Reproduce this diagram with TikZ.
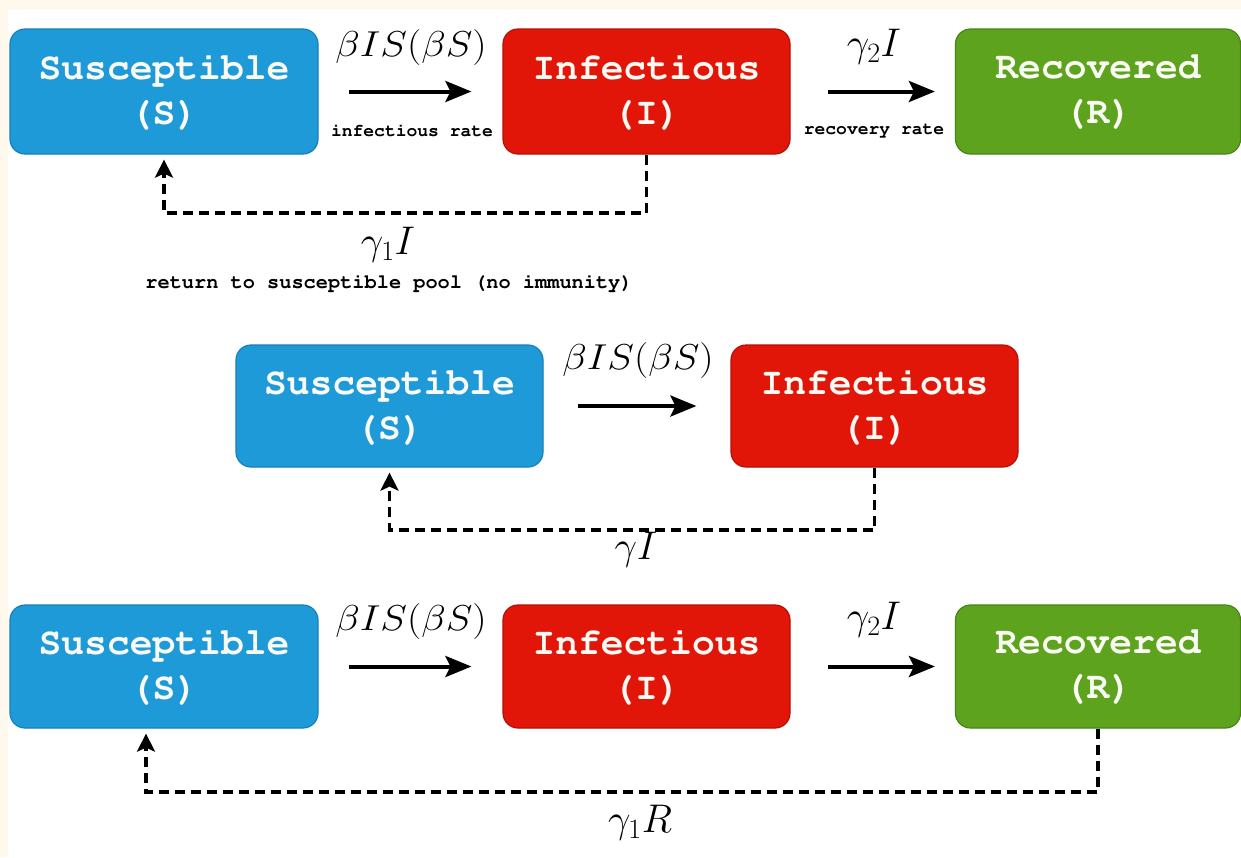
\documentclass[tikz,border=0pt]{standalone}
\usepackage{fix-cm}
\usepackage[T1]{fontenc}
\usepackage{fontspec}
\usepackage{graphicx}
\newcommand{\courb}{\fontencoding{T1}\fontfamily{pcr}\fontseries{b}\selectfont}
\usetikzlibrary{arrows.meta,calc}
\definecolor{bgcream}{RGB}{255,248,236}
\definecolor{sblue}{RGB}{30,154,216}
\definecolor{sblueb}{RGB}{22,128,184}
\definecolor{ired}{RGB}{226,22,8}
\definecolor{iredb}{RGB}{180,16,6}
\definecolor{rgreen}{RGB}{94,163,30}
\definecolor{rgreenb}{RGB}{72,132,22}
\definecolor{boxtext}{RGB}{250,250,244}
\begin{document}
\begin{tikzpicture}[x=1pt,y=-1pt,
  compbox/.style={rectangle,rounded corners=15pt,line width=1.2pt,align=center,
    text=boxtext,inner sep=0pt,font=\courb\fontsize{38}{45}\selectfont},
  sbox/.style={compbox,fill=sblue,draw=sblueb,minimum width=308pt},
  ibox/.style={compbox,fill=ired,draw=iredb,minimum width=287pt},
  rbox/.style={compbox,fill=rgreen,draw=rgreenb,minimum width=285pt},
  flow/.style={line width=4pt,-{Stealth[length=26pt,width=21pt,inset=5pt]}},
  back/.style={line width=3.5pt,dash pattern=on 10pt off 6pt,-{Stealth[length=18pt,width=18pt,inset=4pt]},shorten >=5pt},
  rate/.style={inner sep=0pt,font=\fontsize{36}{36}\selectfont},
  gam/.style={inner sep=0pt,font=\fontsize{40}{40}\selectfont},
  small/.style={inner sep=0pt,font=\courb\fontsize{18}{18}\selectfont},
]
\useasboundingbox (0,0) rectangle (1241,857);
\fill[bgcream] (0,0) rectangle (1241,857);
\fill[white] (8,10) rectangle (1241,857);

% ---------- row 1 ----------
\node[sbox,minimum height=125pt] (S1) at (164,91.5) {Susceptible\\(S)};
\node[ibox,minimum height=125pt] (I1) at (646.5,91.5) {Infectious\\(I)};
\node[rbox,minimum height=125pt] (R1) at (1098,91.5) {Recovered\\(R)};
\draw[flow,shorten <=30pt,shorten >=31pt] (S1.east) -- (I1.west);
\draw[flow,shorten <=37pt,shorten >=20pt] (I1.east) -- (R1.west);
\node[rate] (b1) at (411,47) {\scalebox{1.12}[1]{$\beta IS(\beta S)$}};
\node[small] (ir) at (412,131) {infectious rate};
\node[gam] (g21) at (874,47) {$\gamma_2 I$};
\node[small] (rr) at (874,131) {recovery rate};
\coordinate (d1) at (0,213);
\draw[back] (I1.south) -- (I1.south |- d1) -| (S1.south);
\node[gam] (g11) at (388,245) {$\gamma_1 I$};
\node[small,font=\courb\fontsize{20.3}{20}\selectfont] (ret) at (389,283) {return to susceptible pool (no immunity)};

% ---------- row 2 ----------
\node[sbox,minimum width=307pt,minimum height=122pt] (S2) at (389.5,406) {Susceptible\\(S)};
\node[ibox,minimum height=122pt] (I2) at (874.5,406) {Infectious\\(I)};
\draw[flow,shorten <=34pt,shorten >=34pt] (S2.east) -- (I2.west);
\node[rate] (b2) at (638,360) {\scalebox{1.12}[1]{$\beta IS(\beta S)$}};
\coordinate (d2) at (0,530);
\draw[back] (I2.south) -- (I2.south |- d2) -| (S2.south);
\node[gam] (g2) at (636,550) {$\gamma I$};

% ---------- row 3 ----------
\node[sbox,minimum height=123pt] (S3) at (164,666.5) {Susceptible\\(S)};
\node[ibox,minimum height=123pt] (I3) at (646.5,666.5) {Infectious\\(I)};
\node[rbox,minimum height=123pt] (R3) at (1098,666.5) {Recovered\\(R)};
\draw[flow,shorten <=30pt,shorten >=31pt] (S3.east) -- (I3.west);
\draw[flow,shorten <=37pt,shorten >=20pt] (I3.east) -- (R3.west);
\node[rate] (b3) at (411,621) {\scalebox{1.12}[1]{$\beta IS(\beta S)$}};
\node[gam] (g23) at (874,620) {$\gamma_2 I$};
\coordinate (d3) at (0,792);
\coordinate (s3in) at ([xshift=-18pt]S3.south);
\draw[back] (R3.south) -- (R3.south |- d3) -| (s3in);
\node[gam] (g13) at (640,823) {$\gamma_1 R$};
\end{tikzpicture}
\end{document}
